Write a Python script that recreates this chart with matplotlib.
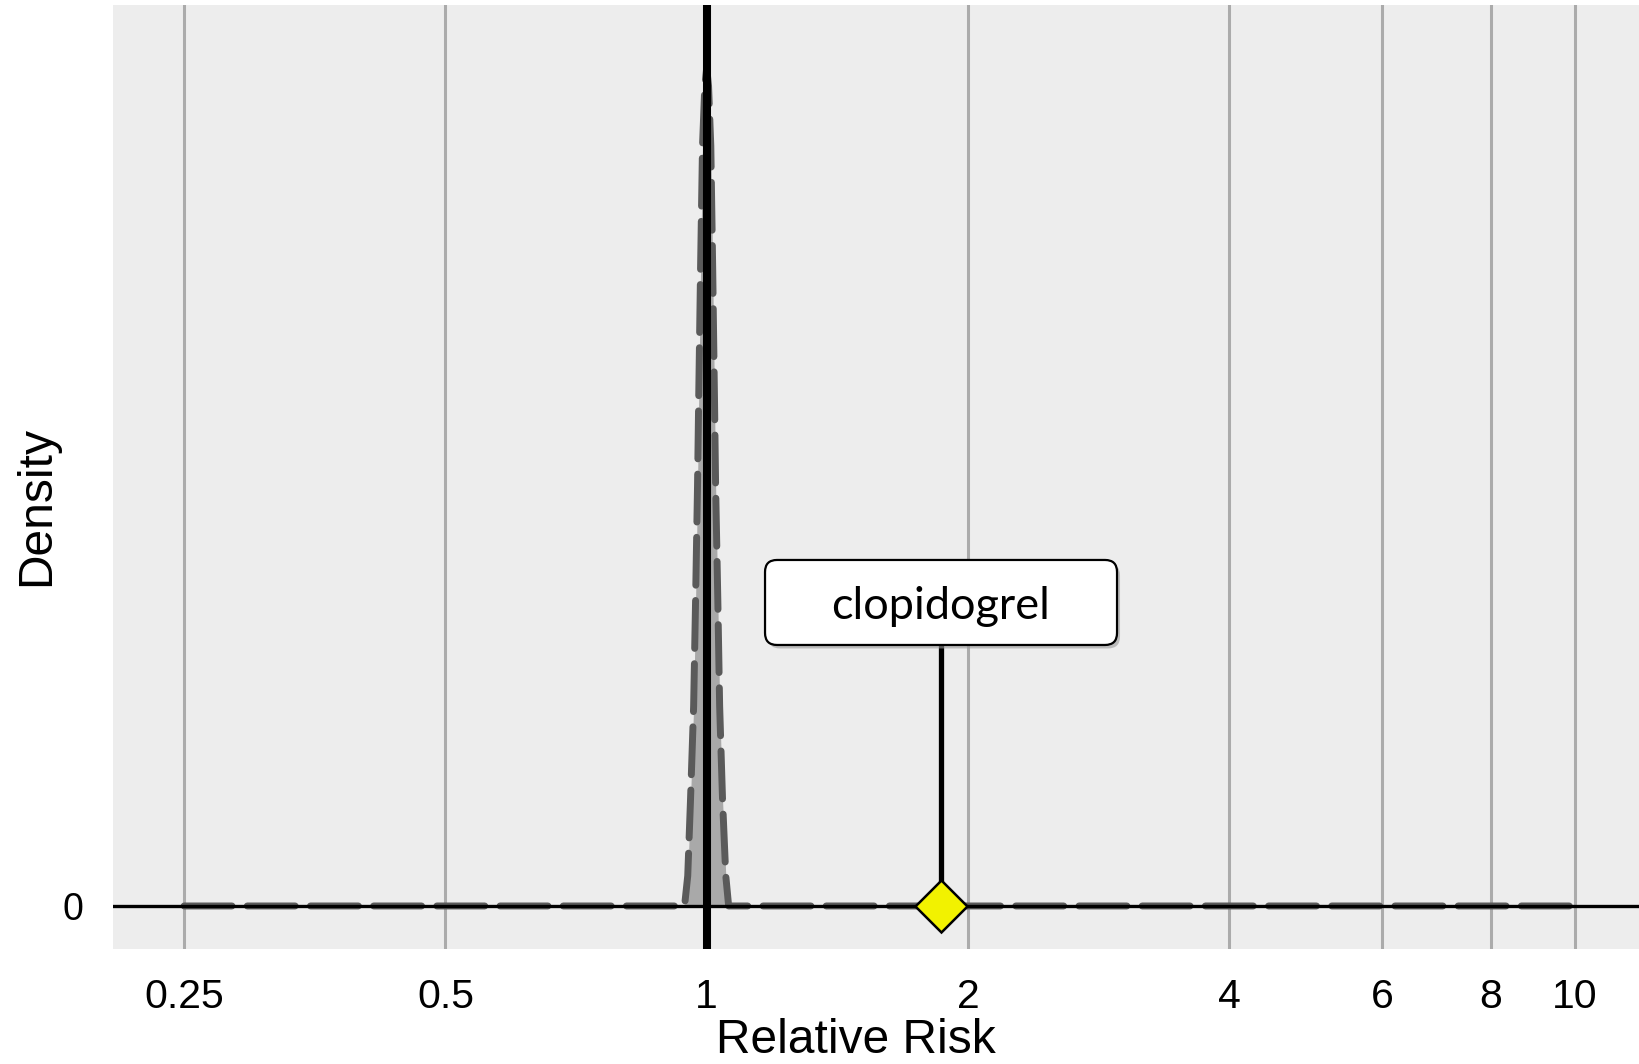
import matplotlib
matplotlib.use("Agg")
import matplotlib.pyplot as plt
import matplotlib.transforms as mtransforms
from matplotlib.patches import FancyBboxPatch

plt.rcParams['font.family'] = ['Liberation Sans', 'DejaVu Sans']

# density curve (relative risk, density)
rr_curve = [0.25, 0.943, 0.951, 0.958, 0.966, 0.971, 0.976, 0.979, 0.984, 0.989, 0.995,
            1.0, 1.005, 1.011, 1.016, 1.021, 1.024, 1.030, 1.035, 1.043, 1.052, 1.060, 10]
dens_curve = [0, 0, 0.68, 2.39, 4.51, 6.9, 9.47, 11.41, 14.43, 17.14, 18.49,
              18.9, 18.49, 17.14, 14.43, 11.41, 9.47, 6.9, 4.51, 2.39, 0.68, 0, 0]

# estimate for the drug
drug_name = "clopidogrel"
drug_rr = 1.862

xticks = [0.25, 0.5, 1, 2, 4, 6, 8, 10]
xtick_labels = ["0.25", "0.5", "1", "2", "4", "6", "8", "10"]

fig = plt.figure(figsize=(16.39, 10.64), dpi=100)
ax = fig.add_axes([0.0689, 0.1081, 0.9311, 0.8872])
ax.set_facecolor('#EDEDED')
for s in ax.spines.values():
    s.set_visible(False)

ax.set_xscale('log', base=2)
ax.set_xlim(0.207, 11.86)
ax.set_ylim(-0.97, 20.32)
ax.set_xticks(xticks)
ax.set_xticklabels(xtick_labels)
ax.minorticks_off()
ax.set_yticks([0])
ax.set_yticklabels(["0"])
ax.tick_params(axis='x', length=0, labelsize=29.5, pad=21)
ax.tick_params(axis='y', length=0, labelsize=27, pad=21)
for x in xticks:
    ax.axvline(x, color='#ABABAB', lw=2.2, zorder=1)

ax.fill_between(rr_curve, dens_curve, 0, color='#A9A9A9', lw=0, zorder=3)
ax.plot(rr_curve, dens_curve, color='#5A5A5A', lw=5, dashes=(6.9, 2.2),
        dash_capstyle='round', zorder=4)
ax.axhline(0, color='black', lw=2.4, zorder=4.5)
ax.axvline(1, color='black', lw=5.8, zorder=5)

# label box, stem and diamond
off = fig.dpi_scale_trans + mtransforms.ScaledTranslation(drug_rr, 0, ax.transData)
ax.plot([0, 0], [0, 2.61], color='black', lw=3.8, transform=off, zorder=6,
        solid_capstyle='butt')
ax.plot([drug_rr], [0], marker='D', ms=26, mfc='#F2F200', mec='black', mew=1.8,
        zorder=7, clip_on=False)
shadow = FancyBboxPatch((-1.76 + 0.03, 2.61 - 0.035), 3.52, 0.85,
                        boxstyle='round,pad=0,rounding_size=0.12',
                        transform=off, fc='#9A9A9A', ec='none', alpha=0.6, zorder=8)
box = FancyBboxPatch((-1.76, 2.61), 3.52, 0.85,
                     boxstyle='round,pad=0,rounding_size=0.12',
                     transform=off, fc='white', ec='black', lw=1.6, zorder=9)
ax.add_patch(shadow)
ax.add_patch(box)
ax.text(0, 2.99, drug_name, transform=off, ha='center', va='center',
        fontsize=32.5, family=['Lato', 'DejaVu Sans'], zorder=10)

ax.set_xlabel("Relative Risk", fontsize=34.5)
ax.xaxis.set_label_coords(0.487, -0.073)
ax.set_ylabel("Density", fontsize=34.5)
ax.yaxis.set_label_coords(-0.035, 0.469)

fig.savefig("out.png", dpi=100)
